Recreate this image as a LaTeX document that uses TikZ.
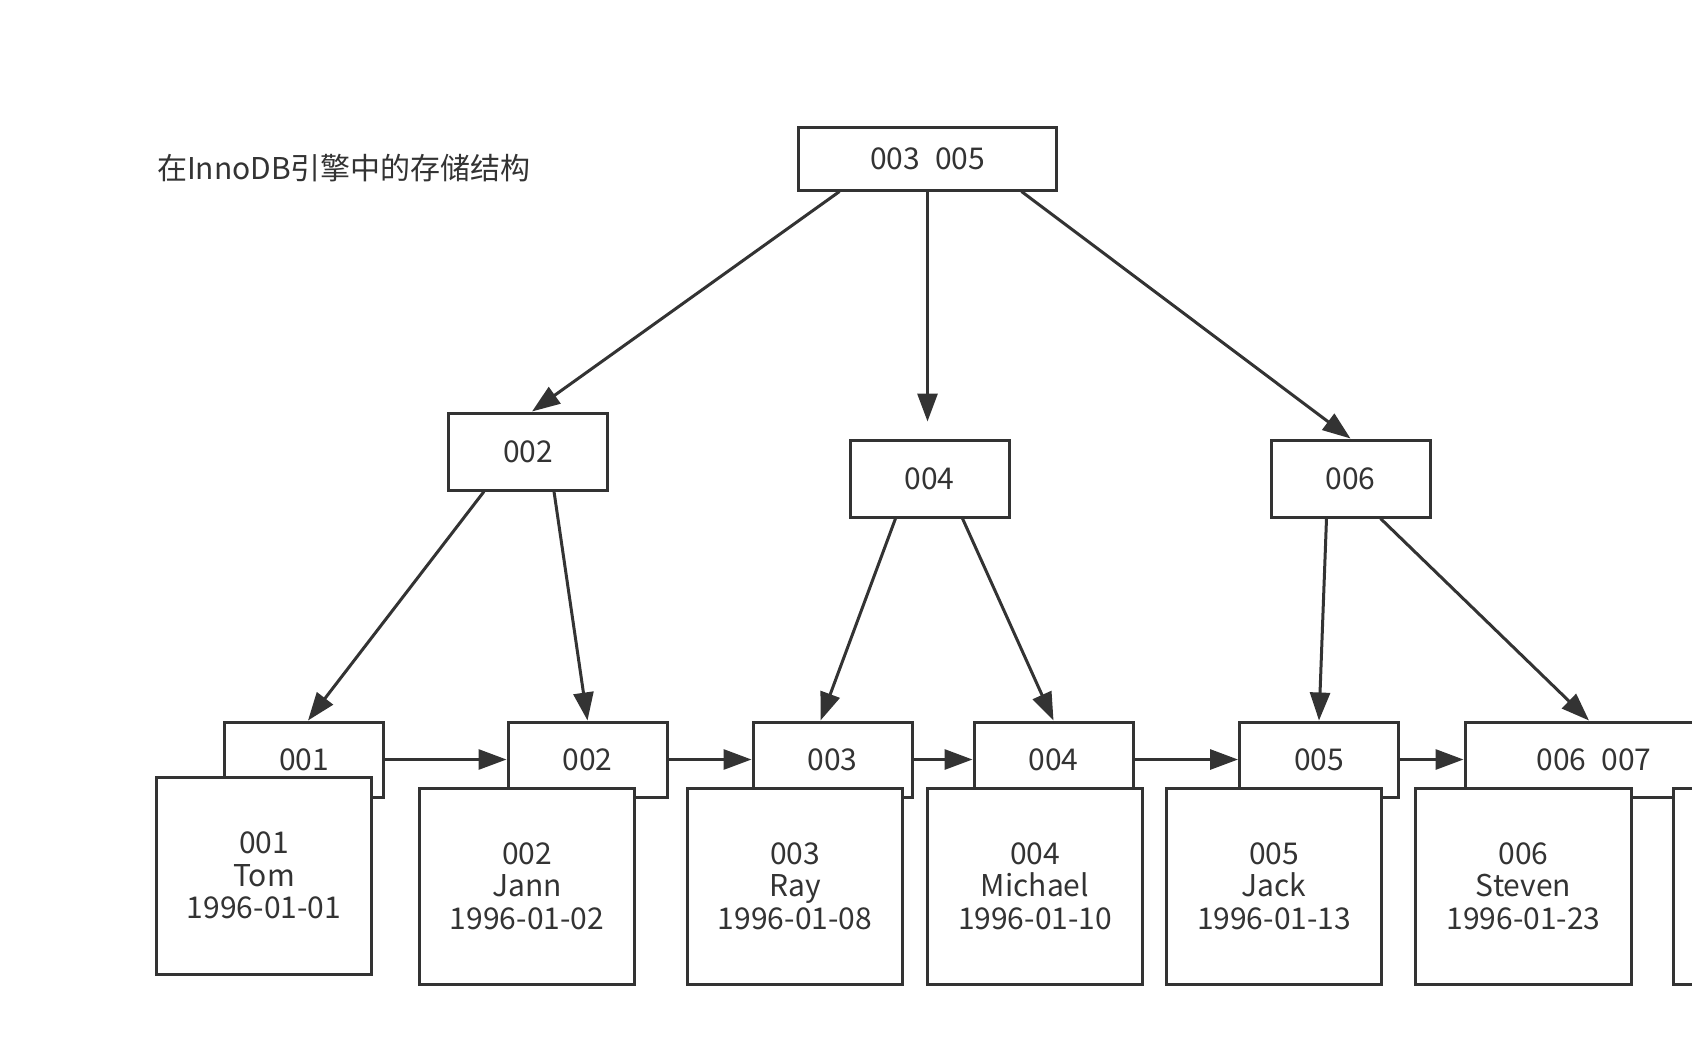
\documentclass[tikz,border=0pt]{standalone}
\usepackage{fontspec}
\setmainfont{Noto Sans CJK SC}
\usetikzlibrary{arrows.meta}
\definecolor{inkgray}{HTML}{333333}
\begin{document}
\begin{tikzpicture}[x=0.5pt, y=-0.5pt,
    key/.style={draw=inkgray, line width=1.5pt, fill=white, inner sep=0pt, text=inkgray,
        minimum width=79.5pt, minimum height=37.5pt, font=\fontsize{15}{16}\selectfont},
    wide/.style={key, minimum width=129pt},
    rec/.style={draw=inkgray, line width=1.5pt, fill=white, inner sep=0pt, align=center, text=inkgray,
        minimum width=107.75pt, minimum height=98pt, font=\fontsize{15}{16.25}\selectfont},
    arr/.style={draw=inkgray, line width=1.5pt, -{Triangle[length=14pt, width=10pt]}}]
        \useasboundingbox (0,0) rectangle (1692,1060);
        \clip (0,0) rectangle (1692,1060);
        \node[anchor=west, font=\fontsize{15}{18}\selectfont, text=inkgray] (T) at (150,168) {在InnoDB引擎中的存储结构};
        \node[wide, minimum height=31.5pt] (R) at (927.5,158.5) {003\hspace{0.5em}005};
        \node[key, minimum height=38.5pt] (K2) at (528,451.5) {002};
        \node[key, minimum height=38.5pt] (K4) at (929.5,478.5) {004};
        \node[key, minimum height=38.5pt] (K6) at (1350.5,478.5) {006};
        \node[key] (L1) at (304,759.5) {001};
        \node[key] (L2) at (587.5,759.5) {002};
        \node[key] (L3) at (832.5,759.5) {003};
        \node[key] (L4) at (1053.5,759.5) {004};
        \node[key] (L5) at (1319,759.5) {005};
        \node[wide] (L6) at (1594,759.5) {006\hspace{0.5em}007};
        \node[rec, minimum height=98.5pt] (D1) at (264,875.5) {001\\Tom\\1996-01-01};
        \node[rec] (D2) at (527,886) {002\\Jann\\1996-01-02};
        \node[rec] (D3) at (795,886) {003\\Ray\\1996-01-08};
        \node[rec] (D4) at (1035,886) {004\\Michael\\1996-01-10};
        \node[rec] (D5) at (1274,886) {005\\Jack\\1996-01-13};
        \node[rec] (D6) at (1523.5,886) {006\\Steven\\1996-01-23};
        \node[rec] (D7) at (1781,886) {};
        \draw[arr] ([xshift=-44pt]R.south) -- ([xshift=2pt]K2.north);
        \draw[arr] (R.south) -- ([yshift=8.5pt]R.south |- K4.north);
        \draw[arr] ([xshift=47pt]R.south) -- (K6.north);
        \draw[arr] ([xshift=-22pt]K2.south) -- ([xshift=2pt]L1.north);
        \draw[arr] ([xshift=13pt]K2.south) -- (L2.north);
        \draw[arr] ([xshift=-17pt]K4.south) -- ([xshift=-6pt]L3.north);
        \draw[arr] ([xshift=16.5pt]K4.south) -- (L4.north);
        \draw[arr] ([xshift=-12pt]K6.south) -- (L5.north);
        \draw[arr] ([xshift=15pt]K6.south) -- ([xshift=-2.5pt]L6.north);
        \draw[arr] (L1) -- (L2);
        \draw[arr] (L2) -- (L3);
        \draw[arr] (L3) -- (L4);
        \draw[arr] (L4) -- (L5);
        \draw[arr] (L5) -- (L6);
    \end{tikzpicture}
\end{document}
